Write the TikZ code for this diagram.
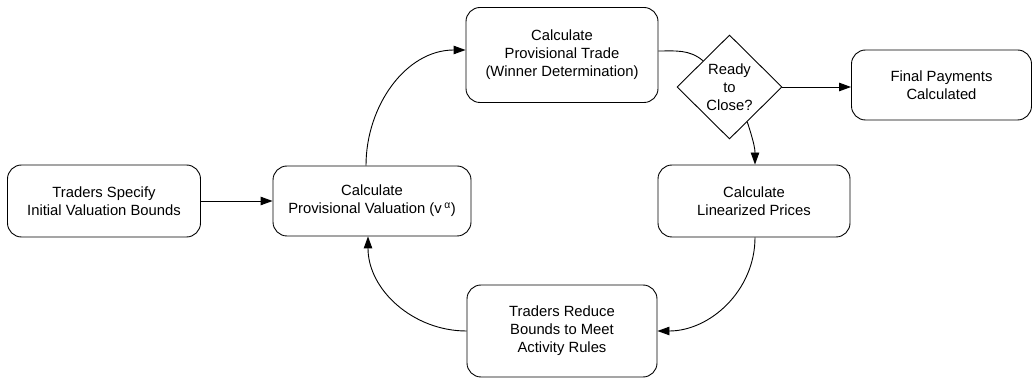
\documentclass[tikz,border=0pt]{standalone}
\usepackage{fontspec}
\setmainfont{Liberation Sans}
\usetikzlibrary{shapes.geometric,arrows.meta}
\begin{document}
\begin{tikzpicture}[x=1pt,y=-1pt,
  box/.style={draw, line width=0.9pt, rounded corners=14pt, align=center,
    font=\fontsize{14.8}{18}\selectfont, inner sep=0pt},
  dec/.style={draw, diamond, line width=0.9pt, align=center, inner sep=0pt,
    minimum width=105pt, minimum height=104pt, font=\fontsize{14.8}{18}\selectfont},
  conn/.style={line width=0.9pt},
  arr/.style={conn, -{Triangle[length=12pt,width=8.5pt]}}]
\useasboundingbox (0,0) rectangle (1034,379);
\node[box, minimum width=193pt, minimum height=72pt] (b1) at (104,201) {Traders Specify\\Initial Valuation Bounds};
\node[box, minimum width=198pt, minimum height=70pt] (b2) at (372,201) {Calculate\\Provisional Valuation (v\,\textsuperscript{α})};
\node[box, minimum width=192pt, minimum height=95pt] (b3) at (562,55) {Calculate\\Provisional Trade\\(Winner Determination)};
\node[dec] (d) at (729.5,87) {Ready\\to\\Close?};
\node[box, minimum width=180pt, minimum height=70pt] (b6) at (941.5,85) {Final Payments\\Calculated};
\node[box, minimum width=192pt, minimum height=72pt] (b4) at (754,201) {Calculate\\Linearized Prices};
\node[box, minimum width=190pt, minimum height=92pt] (b5) at (562,331) {Traders Reduce\\Bounds to Meet\\Activity Rules};
\draw[arr] (b1.east) -- (b2.west |- b1.east);
\draw[arr] ([xshift=-6pt]b2.north) to[out=90,in=180] ([yshift=5pt]b3.west);
\draw[conn] ([yshift=4pt]b3.east) to[out=0,in=140] (d.north west);
\draw[arr] (d.east) -- (b6.west |- d.east);
\draw[arr] (d.-63) to[out=-72,in=90] ([xshift=1pt]b4.north);
\draw[arr] ([xshift=1pt]b4.south) to[out=-90,in=0] (b5.east);
\draw[arr] (b5.west) to[out=180,in=-90] ([xshift=-4pt]b2.south);
\end{tikzpicture}
\end{document}
